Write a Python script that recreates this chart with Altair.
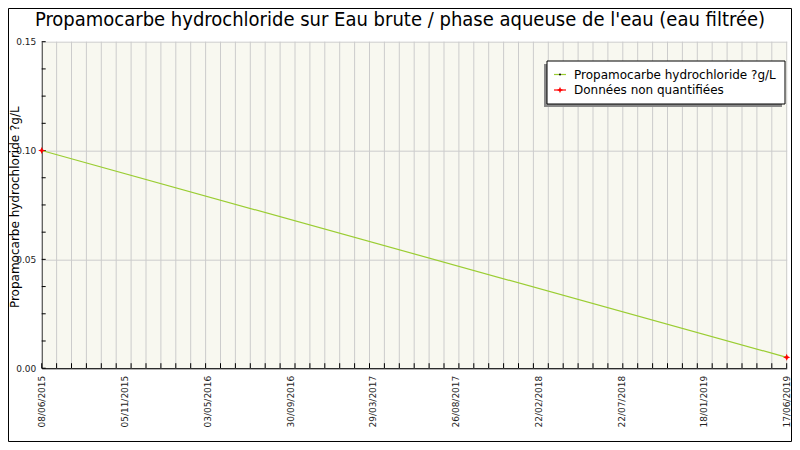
import json
import altair as alt
import pandas as pd

# ---------------- data ----------------
title_text = "Propamocarbe hydrochloride sur Eau brute / phase aqueuse de l'eau (eau filtrée)"
y_title = "Propamocarbe hydrochloride ?g/L"
legend_labels = ["Propamocarbe hydrochloride ?g/L", "Données non quantifiées"]

dates = ["2015-06-08", "2019-06-17"]
values = [0.10, 0.005]
status = ["non quantifiée", "non quantifiée"]

x_labels = ["08/06/2015", "05/11/2015", "03/05/2016", "30/09/2016", "29/03/2017",
            "26/08/2017", "22/02/2018", "22/07/2018", "18/01/2019", "17/06/2019"]
y_labels = [0.0, 0.05, 0.10, 0.15]
y_minor = [0.0, 0.0125, 0.025, 0.0375, 0.05, 0.0625, 0.075, 0.0875,
           0.10, 0.1125, 0.125, 0.1375, 0.15]
n_grid = 50  # vertical grid intervals

# ---------------- layout ----------------
W, H = 745.0, 326.5
PL, PT = 33.7, 33.7
PR = 784 - PL - W
PB = 434 - PT - H

t0 = pd.Timestamp(dates[0], tz="UTC").value // 10**6
t1 = pd.Timestamp(dates[-1], tz="UTC").value // 10**6
label_step = (t1 - t0) / (len(x_labels) - 1)
label_pos = [t0 + i * label_step for i in range(len(x_labels))]
grid_pos = [t0 + i * (t1 - t0) / n_grid for i in range(n_grid + 1)]

df = pd.DataFrame({"date": dates, "value": values, "status": status})
grid_df = pd.DataFrame({"g": grid_pos})
ytick_df = pd.DataFrame({"v": y_minor})

xscale = alt.Scale(domain=[alt.DateTime(year=2015, month=6, date=8, utc=True),
                           alt.DateTime(year=2019, month=6, date=17, utc=True)], nice=False)
yscale = alt.Scale(domain=[0, 0.15], nice=False, zero=True)

label_expr = f"{json.dumps(x_labels)}[round((toNumber(datum.value) - {t0}) / {label_step})]"

x_axis = alt.Axis(values=label_pos, labelExpr=label_expr, labelAngle=270, labelFontSize=9,
                  labelColor="#222222", labelFont="DejaVu Sans", labelPadding=7,
                  ticks=False, grid=False, domainColor="black", title=None,
                  labelOverlap=False, labelFlush=False)
y_axis = alt.Axis(values=y_labels, format=".2f", labelFontSize=9, labelColor="#222222",
                  labelFont="DejaVu Sans", labelPadding=6, ticks=False, grid=True,
                  gridColor="#cccccc", domainColor="black", title=y_title,
                  titleFont="DejaVu Sans", titleFontSize=12, titleFontWeight="normal",
                  titleColor="black", titleX=-27, titleY=165, titleAngle=270,
                  titleAlign="center", titleBaseline="middle")

xg = alt.X("g:T", scale=xscale, axis=x_axis)

grid = alt.Chart(grid_df).mark_rule(color="#cccccc", strokeWidth=1).encode(
    x=xg, y=alt.value(0), y2=alt.value(H))

xticks = alt.Chart(grid_df).mark_rule(color="black", strokeWidth=1).encode(
    x=xg, y=alt.value(H), y2=alt.value(H - 5))

yticks = alt.Chart(ytick_df).mark_rule(color="black", strokeWidth=1).encode(
    y=alt.Y("v:Q", scale=yscale, axis=y_axis), x=alt.value(0), x2=alt.value(4))

line = alt.Chart(df).mark_line(color="#9acd32", strokeWidth=1.2).encode(
    x=alt.X("date:T", scale=xscale, axis=x_axis),
    y=alt.Y("value:Q", scale=yscale, axis=y_axis))

star = "M0,-1L0.3,-0.3L1,0L0.3,0.3L0,1L-0.3,0.3L-1,0L-0.3,-0.3Z"
points = alt.Chart(df).mark_point(shape=star, filled=True, color="red", size=50, opacity=1).encode(
    x=alt.X("date:T", scale=xscale, axis=x_axis),
    y=alt.Y("value:Q", scale=yscale, axis=y_axis))

one = pd.DataFrame({"t": [title_text]})
title = alt.Chart(one).mark_text(font="DejaVu Sans Condensed", fontSize=20, color="black",
                                 align="center", baseline="middle").encode(
    text="t:N", x=alt.value(400 - 8 - PL), y=alt.value(20 - 8 - PT))

# legend (absolute page coords converted to plot coords)
ox, oy = 8 + PL, 8 + PT
shadow = alt.Chart(one).mark_rect(color="#888888").encode(
    x=alt.value(544 - ox), x2=alt.value(782 - ox), y=alt.value(64 - oy), y2=alt.value(107 - oy))
box = alt.Chart(one).mark_rect(fill="white", stroke="black", strokeWidth=1).encode(
    x=alt.value(547 - ox), x2=alt.value(785 - ox), y=alt.value(61 - oy), y2=alt.value(104 - oy))

leg_layers = []
item_y = [74.5, 90]
item_cols = ["#9acd32", "red"]
for i, lab in enumerate(legend_labels):
    ldf = pd.DataFrame({"t": [lab]})
    yy = item_y[i] - oy
    leg_layers.append(alt.Chart(ldf).mark_rule(color=item_cols[i], strokeWidth=1.2).encode(
        x=alt.value(554 - ox), x2=alt.value(566 - ox), y=alt.value(yy)))
    if i == 0:
        leg_layers.append(alt.Chart(ldf).mark_point(shape="circle", filled=True, color="black",
                                                    size=4, opacity=1).encode(
            x=alt.value(560 - ox), y=alt.value(yy)))
    else:
        leg_layers.append(alt.Chart(ldf).mark_point(shape=star, filled=True, color="red",
                                                    size=40, opacity=1).encode(
            x=alt.value(560 - ox), y=alt.value(yy)))
    leg_layers.append(alt.Chart(ldf).mark_text(font="DejaVu Sans", fontSize=12, color="black",
                                               align="left", baseline="middle").encode(
        text="t:N", x=alt.value(574 - ox), y=alt.value(yy)))

frame = alt.Chart(one).mark_rect(fill="transparent", stroke="black", strokeWidth=1).encode(
    x=alt.value(-PL + 0.5), x2=alt.value(W + PR - 0.5),
    y=alt.value(-PT + 0.5), y2=alt.value(H + PB - 0.5))

chart = alt.layer(grid, xticks, yticks, line, points, title, shadow, box, *leg_layers, frame).properties(
    width=W, height=H,
    autosize=alt.AutoSizeParams(type="none"),
    padding={"left": PL, "top": PT, "right": PR, "bottom": PB},
    background="white",
).configure_view(fill="#f8f8f0", stroke="transparent")

chart.save("out.html", embed_options={"renderer": "svg", "actions": False})
